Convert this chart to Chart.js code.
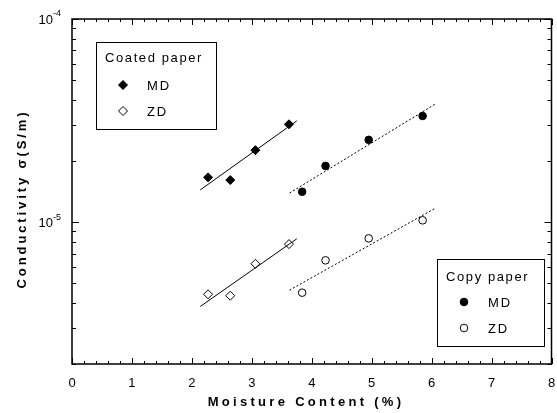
<!DOCTYPE html>
<html>
<head>
<meta charset="utf-8">
<script src="https://cdn.jsdelivr.net/npm/chart.js@4/dist/chart.umd.min.js"></script>
<style>
  body { margin: 0; background: #fff; }
  canvas { display: block; }
</style>
</head>
<body>
<canvas id="myChart" width="557" height="413"></canvas>
<script>
"use strict";

// coated paper, values
const coatedMoisture = [2.27, 2.64, 3.06, 3.62];
const coatedMD = [1.66e-5, 1.61e-5, 2.26e-5, 3.03e-5];
const coatedZD = [4.41e-6, 4.34e-6, 6.23e-6, 7.79e-6];

// copy paper
const copyMoisture = [3.84, 4.23, 4.95, 5.85];
const copyMD = [1.41e-5, 1.89e-5, 2.54e-5, 3.33e-5];
const copyZD = [4.49e-6, 6.48e-6, 8.31e-6, 1.02e-5];

// fitted lines (end points)
const coatedFitX = [2.14, 3.75];
const coatedFitMD = [1.44e-5, 3.15e-5];
const coatedFitZD = [3.84e-6, 8.27e-6];
const copyFitX = [3.63, 6.06];
const copyFitMD = [1.39e-5, 3.81e-5];
const copyFitZD = [4.62e-6, 1.17e-5];

// axes
const xTickLabels = ["0", "1", "2", "3", "4", "5", "6", "7", "8"];
const yDecades = [1e-4, 1e-5];
const yDecadeExp = ["-4", "-5"];

function pts(xs, ys) {
    return xs.map((x, i) => ({ x: x, y: ys[i] }));
}

const frame = {
    id: "frame",
    afterDraw(chart) {
        const { ctx, chartArea: a, scales: { x, y } } = chart;
        ctx.save();
        ctx.strokeStyle = "#000";
        ctx.fillStyle = "#000";

        // x ticks, bottom and top
        ctx.lineWidth = 1;
        ctx.beginPath();
        for (let i = 0; i <= 40; i++) {
            const px = Math.round(x.getPixelForValue(i * 0.2)) + 0.5;
            const len = i % 5 === 0 ? 6 : 3;
            ctx.moveTo(px, a.bottom);
            ctx.lineTo(px, a.bottom - len);
            ctx.moveTo(px, a.top);
            ctx.lineTo(px, a.top + len);
        }
        // y ticks, left and right
        const minor = [];
        for (let m = 2; m <= 9; m++) {
            minor.push(m * 1e-6);
            minor.push(m * 1e-5);
        }
        minor.forEach(v => {
            const py = Math.round(y.getPixelForValue(v)) + 0.5;
            ctx.moveTo(a.left, py);
            ctx.lineTo(a.left + 4, py);
            ctx.moveTo(a.right, py);
            ctx.lineTo(a.right - 4, py);
        });
        yDecades.forEach(v => {
            const py = Math.round(y.getPixelForValue(v)) + 0.5;
            ctx.moveTo(a.left, py);
            ctx.lineTo(a.left + 7, py);
            ctx.moveTo(a.right, py);
            ctx.lineTo(a.right - 7, py);
        });
        ctx.stroke();

        ctx.lineWidth = 1.5;
        ctx.strokeRect(a.left, a.top, a.right - a.left, a.bottom - a.top);

        // x tick labels
        ctx.font = "13px 'Liberation Sans', Arial, sans-serif";
        ctx.textAlign = "center";
        ctx.textBaseline = "middle";
        xTickLabels.forEach((t, i) => {
            ctx.fillText(t, x.getPixelForValue(i), a.bottom + 19);
        });

        // y tick labels 10^n
        yDecades.forEach((v, i) => {
            const py = y.getPixelForValue(v);
            ctx.font = "13px 'Liberation Sans', Arial, sans-serif";
            ctx.textAlign = "right";
            ctx.fillText("10", a.left - 19, py + 1);
            ctx.font = "9px 'Liberation Sans', Arial, sans-serif";
            ctx.textAlign = "left";
            ctx.fillText(yDecadeExp[i], a.left - 19, py - 5);
        });

        // axis titles
        ctx.font = "bold 13px 'Liberation Sans', Arial, sans-serif";
        ctx.letterSpacing = "3.3px";
        ctx.textAlign = "center";
        ctx.fillText("Moisture Content (%)", 306, a.bottom + 38);
        ctx.save();
        ctx.translate(22, 199);
        ctx.rotate(-Math.PI / 2);
        ctx.letterSpacing = "2.9px";
        ctx.fillText("Conductivity σ(S/m)", 0, 0);
        ctx.restore();
        ctx.letterSpacing = "0px";

        // legend boxes
        drawLegend(ctx, 96, 42, 120, 87, 16, "Coated paper", "diamond");
        drawLegend(ctx, 437, 259, 107, 87, 18, "Copy paper", "circle");
        ctx.restore();
    }
};

function drawMarker(ctx, kind, filled, cx, cy) {
    ctx.beginPath();
    if (kind === "diamond") {
        ctx.moveTo(cx, cy - 4.5);
        ctx.lineTo(cx + 4.5, cy);
        ctx.lineTo(cx, cy + 4.5);
        ctx.lineTo(cx - 4.5, cy);
        ctx.closePath();
    } else {
        ctx.arc(cx, cy, 3.8, 0, Math.PI * 2);
    }
    ctx.fillStyle = filled ? "#000" : "#fff";
    ctx.fill();
    ctx.lineWidth = 1;
    ctx.stroke();
}

function drawLegend(ctx, left, top, w, h, titleY, title, kind) {
    ctx.lineWidth = 1;
    ctx.strokeStyle = "#000";
    ctx.fillStyle = "#fff";
    ctx.fillRect(left, top, w, h);
    ctx.strokeRect(left + 0.5, top + 0.5, w, h);
    ctx.fillStyle = "#000";
    ctx.font = "13px 'Liberation Sans', Arial, sans-serif";
    ctx.textAlign = "left";
    ctx.textBaseline = "middle";
    ctx.letterSpacing = "1.6px";
    ctx.fillText(title, left + 9, top + titleY);
    ctx.letterSpacing = "1.8px";
    const mx = left + 27;
    const tx = left + 51;
    const y1 = top + 43;
    const y2 = top + 69;
    drawMarker(ctx, kind, true, mx, y1);
    ctx.fillStyle = "#000";
    ctx.fillText("MD", tx, y1 + 1);
    drawMarker(ctx, kind, false, mx, y2);
    ctx.fillStyle = "#000";
    ctx.fillText("ZD", tx, y2 + 1);
    ctx.letterSpacing = "0px";
}

const fitLine = (xs, ys, dash) => ({
    type: "line",
    data: pts(xs, ys),
    borderColor: "#000",
    borderWidth: 1,
    borderDash: dash,
    pointRadius: 0,
    fill: false
});

const marks = (xs, ys, style, filled, r) => ({
    type: "scatter",
    data: pts(xs, ys),
    pointStyle: style,
    pointRadius: r,
    pointBackgroundColor: filled ? "#000" : "#fff",
    pointBorderColor: "#000",
    pointBorderWidth: 1
});

new Chart(document.getElementById("myChart"), {
    data: {
        datasets: [
            fitLine(coatedFitX, coatedFitMD, []),
            fitLine(coatedFitX, coatedFitZD, []),
            fitLine(copyFitX, copyFitMD, [2, 2]),
            fitLine(copyFitX, copyFitZD, [2, 2]),
            marks(coatedMoisture, coatedMD, "rectRot", true, 4.5),
            marks(coatedMoisture, coatedZD, "rectRot", false, 4.5),
            marks(copyMoisture, copyMD, "circle", true, 3.8),
            marks(copyMoisture, copyZD, "circle", false, 3.8)
        ]
    },
    options: {
        responsive: false,
        animation: false,
        layout: { padding: { left: 72, right: 3, top: 19, bottom: 49 } },
        plugins: { legend: { display: false }, tooltip: { enabled: false } },
        scales: {
            x: { type: "linear", min: 0, max: 8, display: false },
            y: { type: "logarithmic", min: 2e-6, max: 1e-4, display: false }
        }
    },
    plugins: [frame]
});
</script>
</body>
</html>
